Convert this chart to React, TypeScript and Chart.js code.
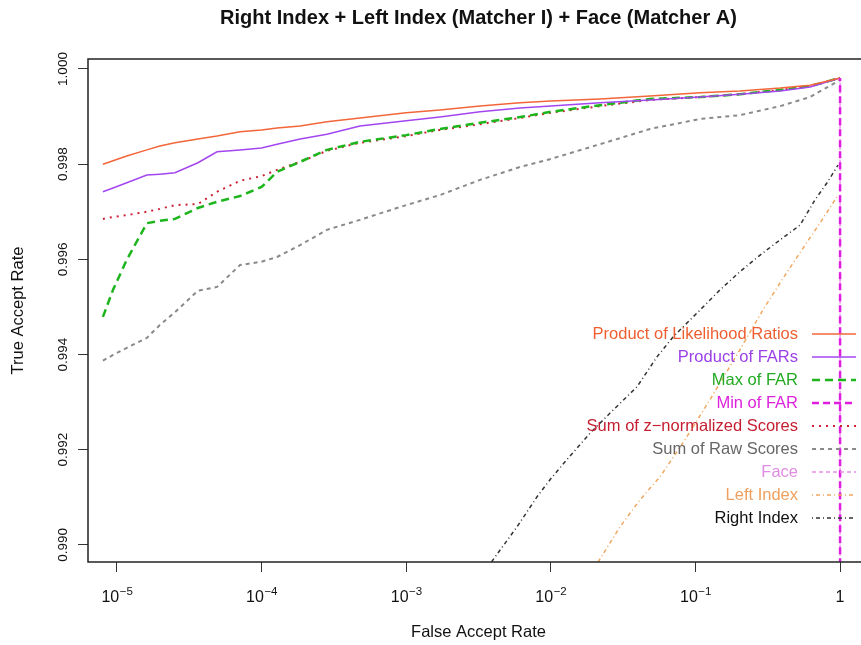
import React, { useEffect, useRef } from "react";
import { Chart, registerables } from "chart.js";
Chart.register(...registerables);

const FONT = "'Liberation Sans', Arial, Helvetica, sans-serif";

const TITLE = "Right Index + Left Index (Matcher I) + Face (Matcher A)";
const X_TITLE = "False Accept Rate";
const Y_TITLE = "True Accept Rate";

const xTickValues = [1e-5, 1e-4, 1e-3, 1e-2, 1e-1, 1];
const yTickValues = [0.99, 0.992, 0.994, 0.996, 0.998, 1.0];

// shared FAR grid for the fused curves
const fusionFar = [
  8.0e-6, 9.4e-6, 1.17e-5, 1.61e-5, 1.98e-5, 2.52e-5, 3.63e-5, 4.92e-5, 7.1e-5, 1.0e-4,
  1.28e-4, 1.85e-4, 2.83e-4, 4.79e-4, 1.0e-3, 1.71e-3, 3.24e-3, 6.12e-3, 1.0e-2, 2.19e-2,
  4.85e-2, 0.108, 0.203, 0.385, 0.62, 1,
];
const productLRTar = [
  0.998, 0.99807, 0.99817, 0.9983, 0.99838, 0.99845, 0.99853, 0.99859, 0.99868, 0.99872,
  0.99876, 0.9988, 0.99889, 0.99897, 0.99908, 0.99914, 0.99922, 0.99929, 0.99933, 0.99937,
  0.99943, 0.9995, 0.99954, 0.9996, 0.99966, 0.99981,
];
const productFarTar = [
  0.99742, 0.9975, 0.99761, 0.99777, 0.99779, 0.99782, 0.99803, 0.99826, 0.9983, 0.99834,
  0.99842, 0.99853, 0.99863, 0.9988, 0.99891, 0.99899, 0.9991, 0.99918, 0.99922, 0.99929,
  0.99935, 0.99941, 0.99947, 0.99954, 0.99962, 0.99981,
];
const maxFarTar = [
  0.99479, 0.99536, 0.99599, 0.99676, 0.99681, 0.99685, 0.99708, 0.99721, 0.99733, 0.99752,
  0.99784, 0.99805, 0.9983, 0.99847, 0.99861, 0.99874, 0.99887, 0.99899, 0.9991, 0.99924,
  0.99937, 0.99941, 0.99947, 0.99956, 0.99964, 0.99981,
];
const sumZTar = [
  0.99685, 0.99689, 0.99693, 0.997, 0.99706, 0.99714, 0.99716, 0.99742, 0.99765, 0.99775,
  0.99788, 0.99805, 0.99828, 0.99845, 0.99859, 0.99872, 0.99884, 0.99897, 0.99908, 0.99922,
  0.99935, 0.99941, 0.99947, 0.99956, 0.99964, 0.99981,
];
const sumRawTar = [
  0.99387, 0.99399, 0.99414, 0.99435, 0.99462, 0.99489, 0.99534, 0.99542, 0.99588, 0.99595,
  0.99605, 0.9963, 0.99662, 0.99683, 0.99714, 0.99735, 0.99767, 0.99794, 0.99811, 0.99842,
  0.99874, 0.99895, 0.99903, 0.99922, 0.99941, 0.99977,
];

const minFarFar = [8e-6, 1e-3, 0.5, 1, 1];
const minFarTar = [0.94, 0.96, 0.975, 0.985, 0.99981];

const faceFar = [8e-6, 1e-2, 0.5, 1, 1];
const faceTar = [0.9, 0.95, 0.97, 0.98, 0.99981];

const leftFar = [1.87e-2, 3.01e-2, 4.14e-2, 5.69e-2, 8.47e-2, 0.126, 0.203, 0.293, 0.417, 0.573, 0.751, 0.968];
const leftTar = [0.98937, 0.99038, 0.99095, 0.99143, 0.99221, 0.99305, 0.9941, 0.99494, 0.99567, 0.9963, 0.99683, 0.99735];

const rightFar = [
  2.76e-3, 4.31e-3, 5.84e-3, 8.03e-3, 9.87e-3, 1.29e-2, 1.87e-2, 2.57e-2, 3.94e-2, 5.42e-2,
  7.0e-2, 0.108, 0.148, 0.203, 0.28, 0.385, 0.529, 0.671, 0.813, 0.968,
];
const rightTar = [
  0.98901, 0.98983, 0.99038, 0.99101, 0.99137, 0.99179, 0.99235, 0.99277, 0.99332, 0.99395,
  0.99437, 0.99494, 0.99536, 0.99574, 0.99609, 0.99641, 0.99672, 0.99725, 0.99761, 0.99798,
];

const seriesNames = [
  "Product of Likelihood Ratios",
  "Product of FARs",
  "Max of FAR",
  "Min of FAR",
  "Sum of z\u2212normalized Scores",
  "Sum of Raw Scores",
  "Face",
  "Left Index",
  "Right Index",
];
const seriesFar = [fusionFar, fusionFar, fusionFar, minFarFar, fusionFar, fusionFar, faceFar, leftFar, rightFar];
const seriesTar = [productLRTar, productFarTar, maxFarTar, minFarTar, sumZTar, sumRawTar, faceTar, leftTar, rightTar];

const lineColors = ["#F2663A", "#A346F0", "#1CB51C", "#E01EE0", "#CC2233", "#8A8A8A", "#E890E8", "#F0A860", "#333333"];
const textColors = ["#EE5E30", "#9B3FE6", "#22AA22", "#DD22DD", "#C41E30", "#666666", "#E08CE4", "#EEA060", "#111111"];
const lineDashes: number[][] = [[], [], [8, 5], [7, 4], [2, 5], [4, 4], [4, 3], [1, 3, 4, 3], [1, 3, 4, 3]];
const lineWidths = [1.5, 1.5, 2.5, 2.5, 2, 2, 1.5, 1.5, 1.5];
const drawOrder = [2, 3, 4, -1, 5, 6, 7, 8, 9];

const boxPlugin = {
  id: "plotBox",
  afterDatasetsDraw(chart: any) {
    const { ctx, chartArea } = chart;
    ctx.save();
    ctx.strokeStyle = "#222";
    ctx.lineWidth = 1.5;
    ctx.strokeRect(chartArea.left, chartArea.top, chartArea.right - chartArea.left, chartArea.bottom - chartArea.top);
    ctx.restore();
  },
};

const labelPlugin = {
  id: "customLabels",
  afterDraw(chart: any) {
    const ctx = chart.ctx;
    const xs = chart.scales.x;
    const ys = chart.scales.y;
    const area = chart.chartArea;
    ctx.save();
    ctx.fillStyle = "#111";
    // main title centred over the plot region
    ctx.font = `bold 20px ${FONT}`;
    ctx.textAlign = "center";
    ctx.textBaseline = "middle";
    ctx.fillText(TITLE, (area.left + area.right) / 2, 18);
    // y tick labels (vertical)
    ctx.font = `13.5px ${FONT}`;
    ys.ticks.forEach((t: any) => {
      const y = ys.getPixelForValue(t.value);
      ctx.save();
      ctx.translate(63, y);
      ctx.rotate(-Math.PI / 2);
      ctx.fillText(Number(t.value).toFixed(3), 0, 0);
      ctx.restore();
    });
    // x tick labels with superscript exponents
    const base = `16px ${FONT}`;
    const sup = `11.5px ${FONT}`;
    ctx.textBaseline = "alphabetic";
    xs.ticks.forEach((t: any) => {
      const x = xs.getPixelForValue(t.value);
      const e = Math.round(Math.log10(t.value));
      if (e === 0) {
        ctx.font = base;
        ctx.textAlign = "center";
        ctx.fillText("1", x, 602);
        return;
      }
      ctx.font = base;
      const w1 = ctx.measureText("10").width;
      const exp = (e < 0 ? "\u2212" : "") + Math.abs(e);
      ctx.font = sup;
      const w2 = ctx.measureText(exp).width;
      const start = x - (w1 + w2) / 2;
      ctx.textAlign = "left";
      ctx.font = base;
      ctx.fillText("10", start, 602);
      ctx.font = sup;
      ctx.fillText(exp, start + w1 + 0.5, 595);
    });
    // legend
    ctx.font = `16.5px ${FONT}`;
    ctx.textBaseline = "middle";
    seriesNames.forEach((name, i) => {
      const y = 334 + i * 23;
      ctx.textAlign = "right";
      ctx.fillStyle = textColors[i];
      ctx.fillText(name, 798, y);
      ctx.beginPath();
      ctx.setLineDash(lineDashes[i]);
      ctx.strokeStyle = lineColors[i];
      ctx.lineWidth = lineWidths[i];
      ctx.moveTo(812, y);
      ctx.lineTo(856, y);
      ctx.stroke();
    });
    ctx.setLineDash([]);
    ctx.restore();
  },
};

export default function App() {
  const ref = useRef<HTMLCanvasElement | null>(null);
  useEffect(() => {
    if (!ref.current) return;
    const datasets = seriesNames.map((name, i) => ({
      label: name,
      data: seriesFar[i].map((f, j) => ({ x: f, y: seriesTar[i][j] })),
      borderColor: lineColors[i],
      backgroundColor: lineColors[i],
      borderDash: lineDashes[i],
      borderWidth: lineWidths[i],
      pointRadius: 0,
      tension: 0,
      fill: false,
      order: drawOrder[i],
    }));
    const chart = new Chart(ref.current, {
      type: "line",
      data: { datasets },
      plugins: [boxPlugin, labelPlugin],
      options: {
        animation: false,
        responsive: false,
        devicePixelRatio: 1,
        layout: { padding: { left: 0, right: 88, top: 59, bottom: 0 } },
        plugins: {
          legend: { display: false },
          tooltip: { enabled: false },
          title: { display: false },
        },
        scales: {
          x: {
            type: "logarithmic",
            min: Math.pow(10, -5.2),
            max: Math.pow(10, 0.2),
            afterBuildTicks: (s: any) => {
              s.ticks = xTickValues.map((v) => ({ value: v }));
            },
            afterFit: (s: any) => {
              s.height = 83;
            },
            ticks: { display: false },
            border: { display: false },
            grid: { display: true, drawOnChartArea: false, drawTicks: true, tickLength: 10, color: "#333", tickWidth: 1 },
            title: {
              display: true,
              text: X_TITLE,
              color: "#111",
              font: { family: FONT, size: 16.5 },
              padding: { top: 0, bottom: 3 },
            },
          },
          y: {
            type: "linear",
            min: 0.98964,
            max: 1.00021,
            afterBuildTicks: (s: any) => {
              s.ticks = yTickValues.map((v) => ({ value: v }));
            },
            afterFit: (s: any) => {
              s.width = 88;
            },
            ticks: { display: false },
            border: { display: false },
            grid: { display: true, drawOnChartArea: false, drawTicks: true, tickLength: 10, color: "#333", tickWidth: 1 },
            title: {
              display: true,
              text: Y_TITLE,
              color: "#111",
              font: { family: FONT, size: 16.5 },
              padding: { top: 9, bottom: 0 },
            },
          },
        },
      } as any,
    });
    return () => chart.destroy();
  }, []);
  return (
    <div style={{ position: "fixed", left: 0, top: 0, width: 861, height: 645, overflow: "hidden", background: "#fff" }}>
      <canvas ref={ref} width={957} height={645} style={{ display: "block" }} />
    </div>
  );
}
